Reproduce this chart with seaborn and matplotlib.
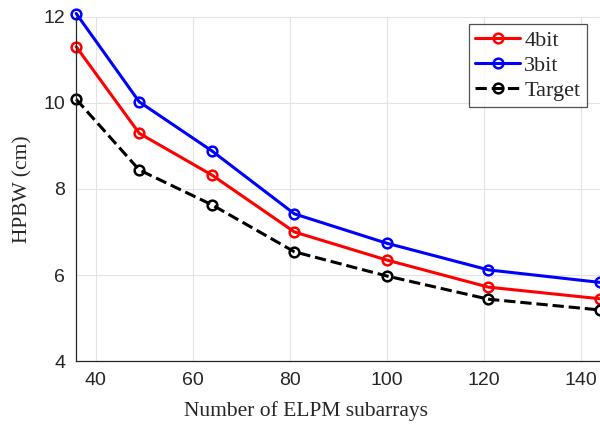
import pandas as pd
import seaborn as sns
import matplotlib.pyplot as plt

# Data
subarrays = [36, 49, 64, 81, 100, 121, 144]
hpbw_4bit = [11.30, 9.29, 8.32, 7.00, 6.35, 5.72, 5.45]
hpbw_3bit = [12.07, 10.02, 8.88, 7.42, 6.74, 6.12, 5.83]
hpbw_target = [10.08, 8.44, 7.63, 6.54, 5.98, 5.44, 5.19]

sns.set_style("whitegrid", {"grid.color": "#e3e3e3", "axes.edgecolor": "#262626"})
plt.rcParams['font.family'] = ['Liberation Sans', 'DejaVu Sans']

fig = plt.figure(figsize=(6, 4.24), dpi=100)
ax = fig.add_axes([0.127, 0.148, 0.873, 0.813])

series = [
    (hpbw_4bit, '4bit', 'red', '-'),
    (hpbw_3bit, '3bit', 'blue', '-'),
    (hpbw_target, 'Target', 'black', '--'),
]
for vals, name, col, ls in series:
    sns.lineplot(x=subarrays, y=vals, ax=ax, color=col, linestyle=ls, linewidth=2.2,
                 marker='o', markersize=7, markerfacecolor='none', markeredgecolor=col,
                 markeredgewidth=1.8, label=name, clip_on=False)

ax.set_xlim(36, 144)
ax.set_ylim(4, 12)
ax.set_xticks([40, 60, 80, 100, 120, 140])
ax.set_yticks([4, 6, 8, 10, 12])
ax.tick_params(axis='both', labelsize=14, direction='in', length=4, width=0.8,
               colors='#262626', pad=8)
for s in ['top', 'right']:
    ax.spines[s].set_visible(False)
for s in ['left', 'bottom']:
    ax.spines[s].set_linewidth(0.9)

ax.set_xlabel('Number of ELPM subarrays', family='Liberation Serif', fontsize=15.5,
              color='#262626')
ax.xaxis.set_label_coords(0.439, -0.115)
ax.set_ylabel('HPBW (cm)', family='Liberation Serif', fontsize=15.5,
              color='#262626', labelpad=8)

leg = ax.legend(loc='upper right', bbox_to_anchor=(0.983, 0.99), fancybox=False,
                frameon=True, prop={'family': 'Liberation Serif', 'size': 16},
                handlelength=2.0, borderpad=0.28, labelspacing=0.2, handletextpad=0.2,
                borderaxespad=0.2)
leg.get_frame().set_edgecolor('#262626')
leg.get_frame().set_linewidth(0.9)

fig.savefig('out.png', dpi=100)
